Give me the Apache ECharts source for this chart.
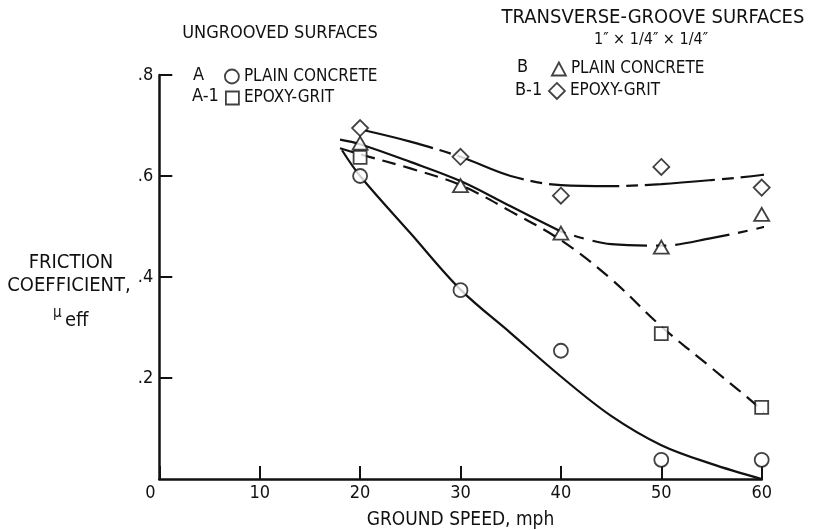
<!DOCTYPE html>
<html>
<head>
<meta charset="utf-8">
<script src="https://cdn.jsdelivr.net/npm/echarts@6/dist/echarts.min.js"></script>
<style>
  html, body { margin: 0; padding: 0; background: #fff; }
  #chart { width: 814px; height: 530px; }
</style>
</head>
<body>
<div id="chart"></div>
<script>
// Measured friction coefficients versus ground speed (mph)
const speed = [20, 30, 40, 50, 60];
const plainUngrooved = [0.600, 0.374, 0.254, 0.038, 0.038];   // A
const gritSpeed = [20, 50, 60];
const gritUngrooved = [0.637, 0.288, 0.142];                   // A-1
const plainGrooved = [0.665, 0.581, 0.487, 0.459, 0.524];      // B
const gritGrooved = [0.695, 0.638, 0.561, 0.618, 0.577];       // B-1

// Faired curves through each data set
const fairA_x = [18.2, 20, 25, 30, 35, 40, 45, 50, 55, 60];
const fairA_y = [0.651, 0.600, 0.487, 0.375, 0.289, 0.203, 0.125, 0.067, 0.030, 0.0];
const fairA1_x = [18, 20, 25, 30, 35, 40, 45, 50, 55, 60, 61.5];
const fairA1_y = [0.655, 0.643, 0.615, 0.582, 0.530, 0.473, 0.396, 0.302, 0.220, 0.137, 0.105];
const fairB_solid_x = [18, 20, 25, 30, 35, 40];
const fairB_solid_y = [0.672, 0.663, 0.628, 0.590, 0.540, 0.490];
const fairB_dash_x = [40, 45, 50, 55, 60, 63.3];
const fairB_dash_y = [0.490, 0.465, 0.462, 0.477, 0.498, 0.515];
const fairB1_x = [20.5, 25, 30, 35, 40, 45, 50, 55, 60, 62];
const fairB1_y = [0.690, 0.668, 0.638, 0.600, 0.582, 0.580, 0.584, 0.592, 0.602, 0.610];

// Axis settings
const xMin = 0, xMax = 60, xStep = 10;
const yMin = 0, yMax = 0.8, yStep = 0.2;
const xTitle = 'GROUND SPEED, mph';

const FONT = "'DejaVu Sans Condensed', 'Liberation Sans Narrow', 'DejaVu Sans', sans-serif";
const INK = '#111';

const zip = (xs, ys) => xs.map((x, i) => [x, ys[i]]);

const chart = echarts.init(document.getElementById('chart'), null, { renderer: 'canvas' });

const markerStyle = { color: '#fff', borderColor: INK, borderWidth: 1.8 };

function fair(data, type, dash) {
  return {
    type: 'line',
    data: data,
    smooth: 0.35,
    showSymbol: false,
    clip: false,
    silent: true,
    z: 2,
    lineStyle: { color: INK, width: 2.2, type: type || 'solid', dashOffset: dash || 0 }
  };
}

function points(name, data, symbol, size) {
  return {
    name: name,
    type: 'scatter',
    data: data,
    symbol: symbol,
    symbolSize: size,
    itemStyle: markerStyle,
    z: 5,
    silent: true
  };
}

function legendRow(name, icon, w, h, left, top) {
  return {
    data: [{ name: name, icon: icon }],
    left: left, top: top,
    padding: 0,
    itemWidth: w, itemHeight: h,
    selectedMode: false,
    itemStyle: { color: '#fff', borderColor: INK, borderWidth: 1.8 },
    textStyle: { fontFamily: FONT, fontSize: 17, color: INK },
    formatter: n => (n === 'A' || n === 'B') ? 'PLAIN CONCRETE' : 'EPOXY-GRIT'
  };
}

function label(text, x, y, size, align) {
  return {
    type: 'text', x: x, y: y,
    style: { text: text, fontFamily: FONT, fontSize: size, fill: INK, align: align || 'left', verticalAlign: 'middle' }
  };
}

const option = {
  animation: false,
  backgroundColor: '#fff',
  textStyle: { fontFamily: FONT },
  grid: { left: 159.3, right: 52.3, top: 75, bottom: 51, containLabel: false, outerBoundsMode: 'none' },
  xAxis: {
    type: 'value', min: xMin, max: xMax, interval: xStep,
    name: xTitle, nameLocation: 'middle', nameGap: 32,
    nameTextStyle: { fontFamily: FONT, fontSize: 19, color: INK },
    axisLine: { lineStyle: { color: INK, width: 2.5 } },
    axisTick: { inside: true, length: 13, lineStyle: { color: INK, width: 2 } },
    splitLine: { show: false },
    axisLabel: {
      margin: 5, fontFamily: FONT, fontSize: 18, color: INK,
      formatter: v => v === 0 ? '{z|0}' : String(v),
      rich: { z: { fontFamily: FONT, fontSize: 18, color: INK, padding: [0, 18, 0, 0] } }
    }
  },
  yAxis: {
    type: 'value', min: yMin, max: yMax, interval: yStep,
    axisLine: { lineStyle: { color: INK, width: 2.5 } },
    axisTick: { inside: true, length: 13, lineStyle: { color: INK, width: 2 } },
    splitLine: { show: false },
    axisLabel: {
      margin: 6, fontFamily: FONT, fontSize: 18, color: INK,
      showMinLabel: false,
      formatter: v => v === 0 ? '' : '.' + Math.round(v * 10)
    }
  },
  legend: [
    legendRow('A', 'circle', 14, 14, 224, 68),
    legendRow('A-1', 'rect', 13, 13, 225, 89.5),
    legendRow('B', 'triangle', 14, 13, 551, 60.5),
    legendRow('B-1', 'diamond', 16, 16, 548, 82)
  ],
  graphic: [
    label('UNGROOVED SURFACES', 280, 33, 18, 'center'),
    label('TRANSVERSE-GROOVE SURFACES', 653, 18, 20, 'center'),
    label('1\u2033 \u00d7 1/4\u2033 \u00d7 1/4\u2033', 651, 40, 16, 'center'),
    label('A', 193, 75, 18),
    label('A-1', 192, 96, 18),
    label('B', 517, 67, 18),
    label('B-1', 515, 90, 18),
    label('FRICTION', 71, 263, 20, 'center'),
    label('COEFFICIENT,', 69, 286, 20, 'center'),
    label('\u03bc', 53, 313, 15),
    label('eff', 65, 321, 20)
  ],
  series: [
    fair(zip(fairA_x, fairA_y), 'solid'),
    fair(zip(fairA1_x, fairA1_y), [14, 8]),
    fair(zip(fairB_solid_x, fairB_solid_y), 'solid'),
    fair(zip(fairB_dash_x, fairB_dash_y), [55, 9, 10, 9], 50),
    fair(zip(fairB1_x, fairB1_y), [70, 7, 12, 7]),
    points('A', zip(speed, plainUngrooved), 'circle', 14),
    points('A-1', zip(gritSpeed, gritUngrooved), 'rect', 13),
    points('B', zip(speed, plainGrooved), 'triangle', [15, 13]),
    points('B-1', zip(speed, gritGrooved), 'diamond', [16, 16])
  ]
};

chart.setOption(option);
</script>
</body>
</html>
